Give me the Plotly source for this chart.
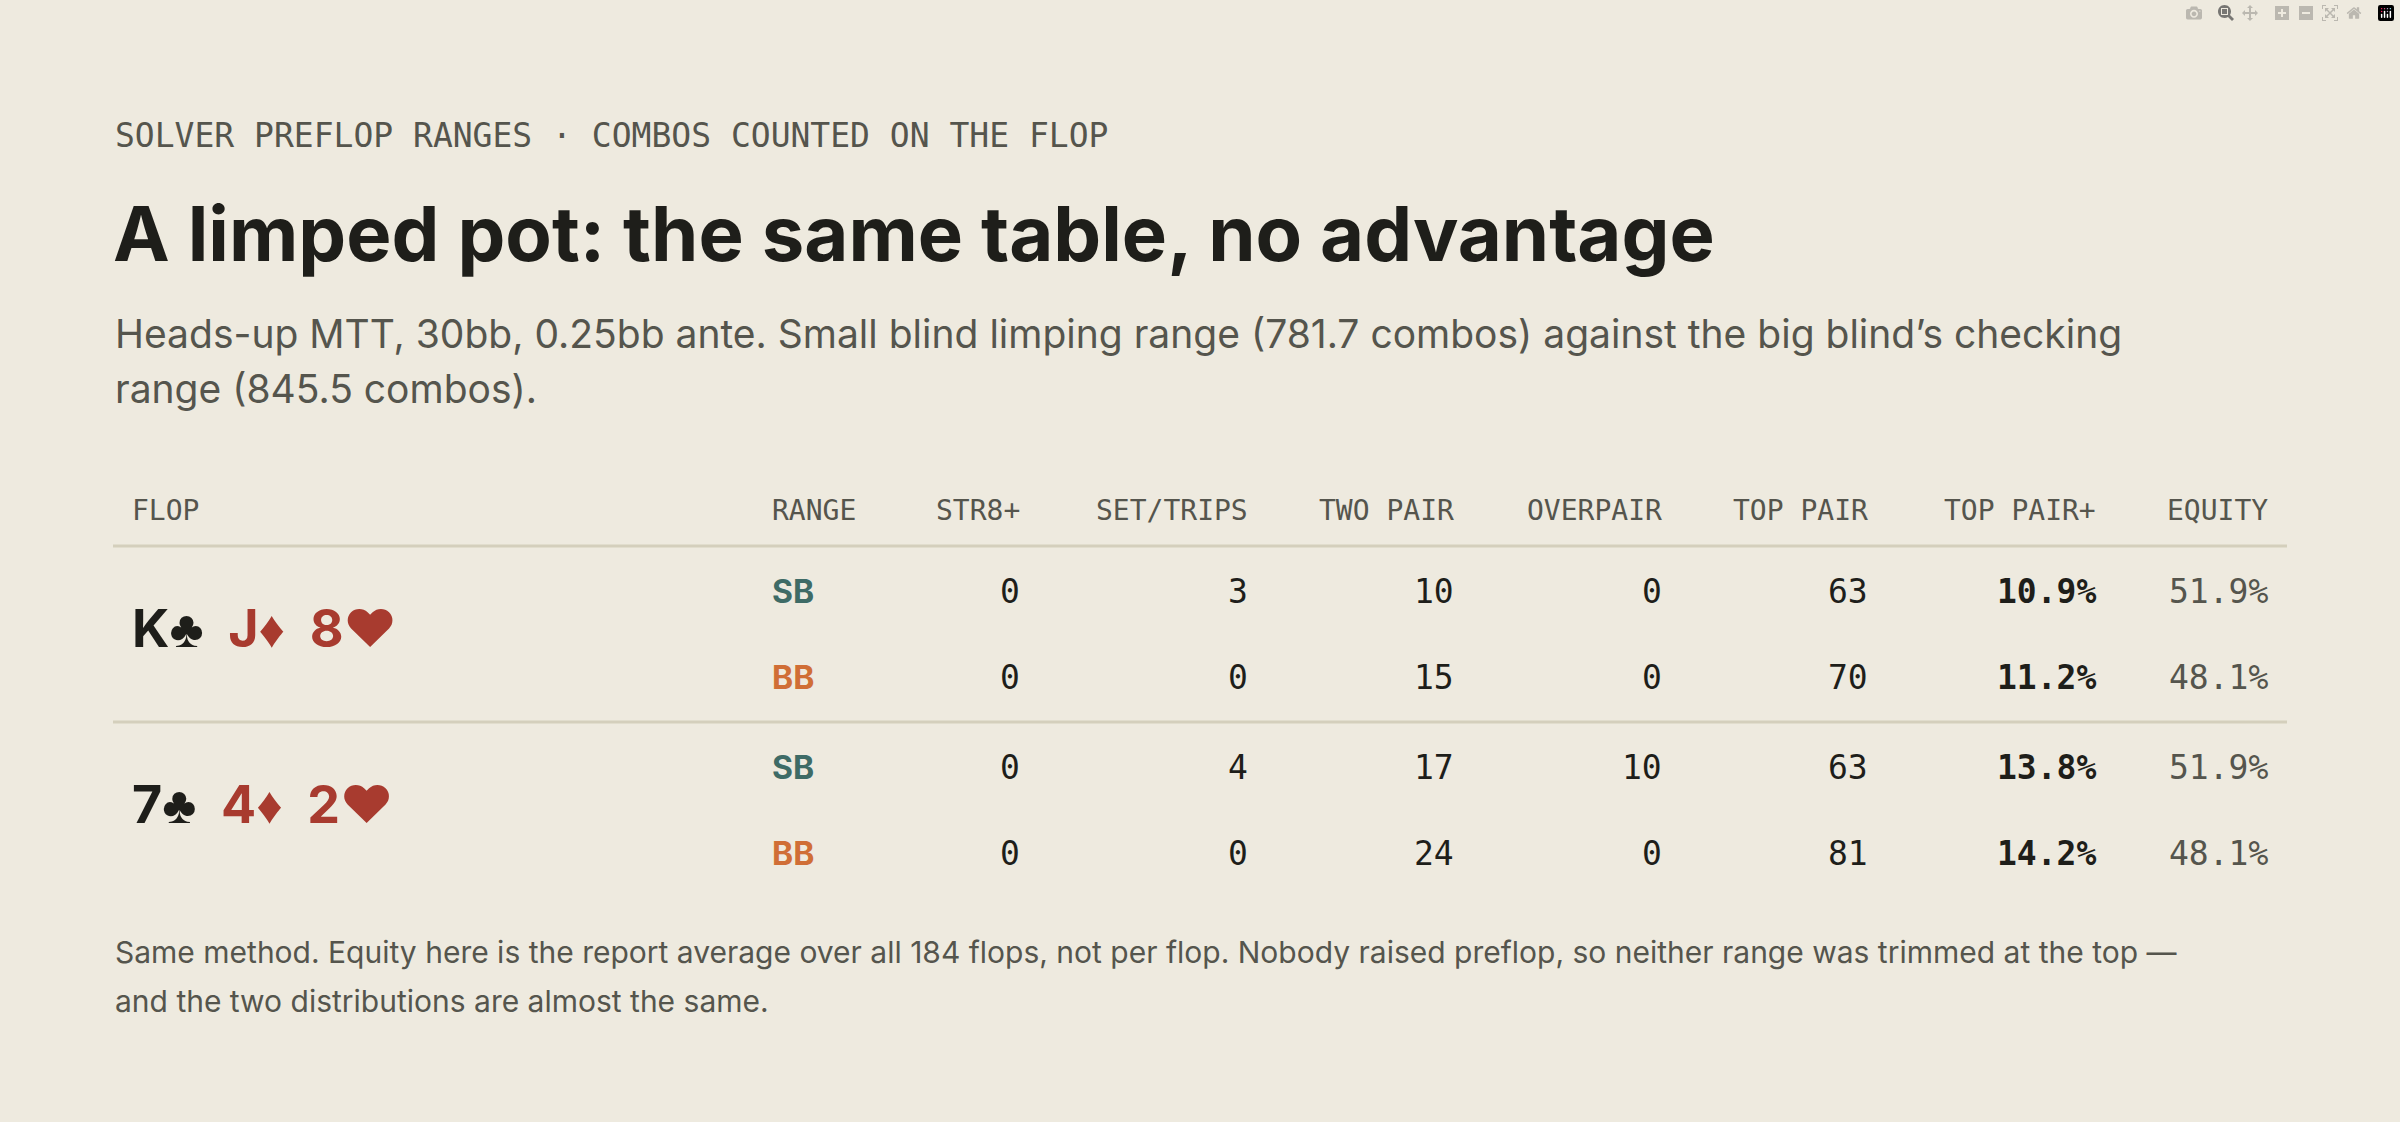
import plotly.graph_objects as go

W, H = 2400, 1122

# data
kicker = "SOLVER PREFLOP RANGES · COMBOS COUNTED ON THE FLOP"
title = "A limped pot: the same table, no advantage"
subtitle = ["Heads-up MTT, 30bb, 0.25bb ante. Small blind limping range (781.7 combos) against the big blind’s checking",
            "range (845.5 combos)."]
footer = ["Same method. Equity here is the report average over all 184 flops, not per flop. Nobody raised preflop, so neither range was trimmed at the top —",
          "and the two distributions are almost the same."]
columns = ["RANGE", "STR8+", "SET/TRIPS", "TWO PAIR", "OVERPAIR", "TOP PAIR", "TOP PAIR+", "EQUITY"]
flops = [[("K", "♣"), ("J", "♦"), ("8", "♥")], [("7", "♣"), ("4", "♦"), ("2", "♥")]]
ranges = ["SB", "BB"]
str8 = [[0, 0], [0, 0]]
set_trips = [[3, 0], [4, 0]]
two_pair = [[10, 15], [17, 24]]
overpair = [[0, 0], [10, 0]]
top_pair = [[63, 70], [63, 81]]
top_pair_plus = [[10.9, 11.2], [13.8, 14.2]]
equity = [[51.9, 48.1], [51.9, 48.1]]

BG = "#EEEADF"
INK = "#1E1E1A"
GRAY = "#55554D"
RULE = "#D4CFBC"
RED = "#A83B2F"
RANGE_COL = {"SB": "#3E6B66", "BB": "#D06E36"}
MONO = "DejaVu Sans Mono"
SANS = "Inter"

ann = []


def px(x, y, text, size, color=INK, family=SANS, xanchor="left", weight="normal"):
    ann.append(dict(x=x / W, y=1 - y / H, xref="paper", yref="paper", text=text, showarrow=False,
                    xanchor=xanchor, yanchor="middle",
                    font=dict(size=size, color=color, family=family, weight=weight)))


px(113, 135, kicker, 33, GRAY, MONO)
px(111, 233, title, 76, INK, SANS, weight="bold")
for i, line in enumerate(subtitle):
    px(113, 334 + i * 54, line, 39, GRAY)
for i, line in enumerate(footer):
    px(113, 952 + i * 49, line, 30, GRAY)

# header
col_right = [None, 1022, 1250, 1456, 1664, 1870, 2098, 2270]
px(130, 510, "FLOP", 28, GRAY, MONO)
for c, name in enumerate(columns):
    if c == 0:
        px(770, 510, name, 28, GRAY, MONO)
    else:
        px(col_right[c], 510, name, 28, GRAY, MONO, xanchor="right")

shapes = [dict(type="line", xref="paper", yref="paper", x0=113 / W, x1=2287 / W,
               y0=1 - 546 / H, y1=1 - 546 / H, line=dict(color=RULE, width=3)),
          dict(type="line", xref="paper", yref="paper", x0=113 / W, x1=2287 / W,
               y0=1 - 722 / H, y1=1 - 722 / H, line=dict(color=RULE, width=3))]

row_y = [[591, 677], [767, 853]]
flop_y = [629, 804]
for f, cards in enumerate(flops):
    parts = []
    for rank, suit in cards:
        col = INK if suit in "♣♠" else RED
        parts.append(f"<span style='color:{col}'>{rank}{suit}</span>")
    px(130, flop_y[f], "  ".join(parts), 52, INK, SANS, weight="bold")
    for r, rng in enumerate(ranges):
        y = row_y[f][r]
        px(770, y, rng, 32, RANGE_COL[rng], SANS, weight="bold")
        vals = [str8[f][r], set_trips[f][r], two_pair[f][r], overpair[f][r], top_pair[f][r]]
        for c, v in enumerate(vals):
            px(col_right[c + 1], y, str(v), 33, INK, MONO, xanchor="right")
        px(col_right[6], y, f"{top_pair_plus[f][r]:.1f}%", 33, INK, MONO, xanchor="right", weight="bold")
        px(col_right[7], y, f"{equity[f][r]:.1f}%", 33, GRAY, MONO, xanchor="right")

fig = go.Figure()
fig.update_layout(width=W, height=H, margin=dict(l=0, r=0, t=0, b=0),
                  paper_bgcolor=BG, plot_bgcolor=BG,
                  xaxis=dict(visible=False), yaxis=dict(visible=False),
                  annotations=ann, shapes=shapes, showlegend=False)
fig.write_html("out.html", post_script="document.body.style.margin='0';document.body.style.background='#EEEADF';")
